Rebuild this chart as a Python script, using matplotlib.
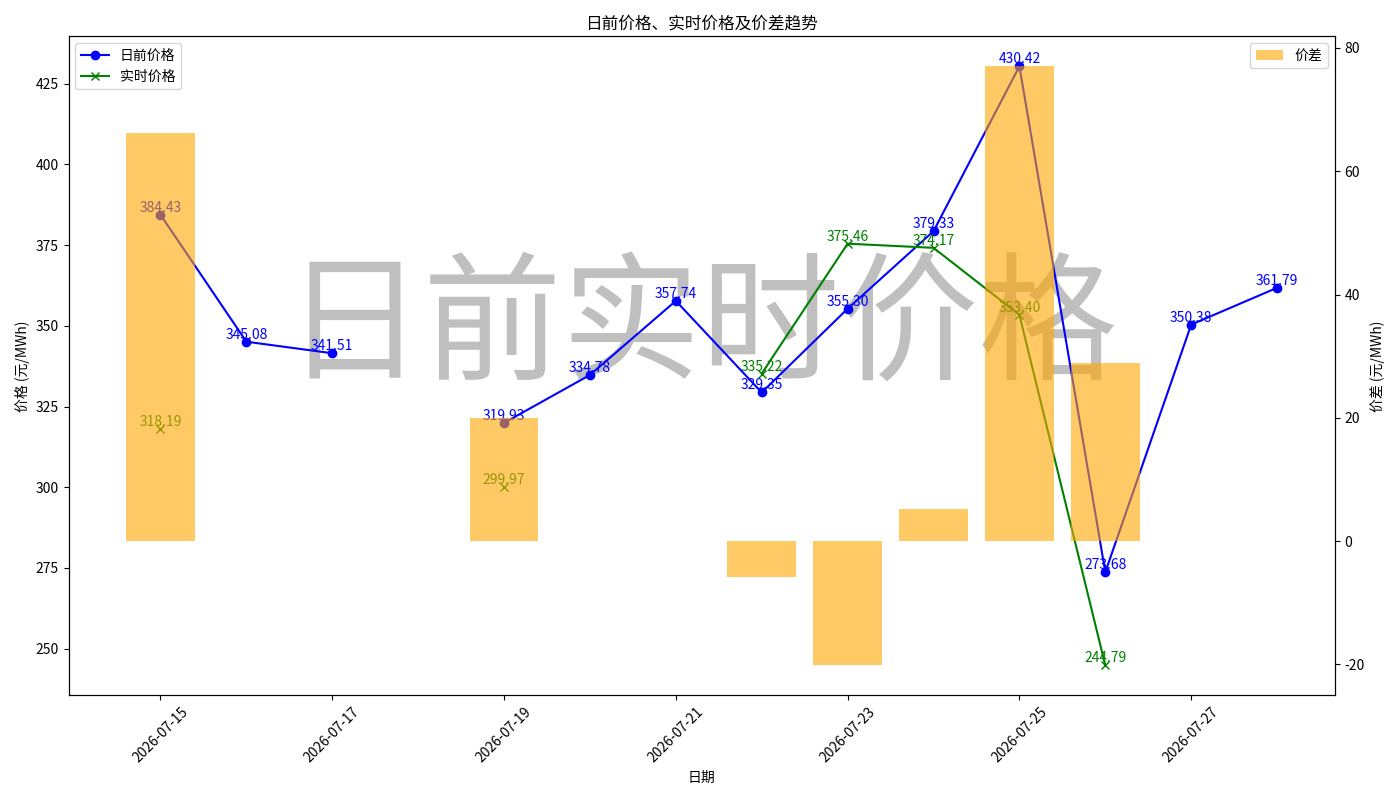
import numpy as np
import pandas as pd
import matplotlib
matplotlib.use('Agg')
import matplotlib.pyplot as plt

plt.rcParams['font.family'] = ['Noto Sans CJK SC', 'DejaVu Sans']
plt.rcParams['axes.unicode_minus'] = False

dates = pd.date_range('2026-07-15', '2026-07-28', freq='D')
day_ahead = [384.43, 345.08, 341.51, np.nan, 319.93, 334.78, 357.74,
             329.35, 355.30, 379.33, 430.42, 273.68, 350.38, 361.79]
real_time = [318.19, np.nan, np.nan, np.nan, 299.97, np.nan, np.nan,
             335.22, 375.46, 374.17, 353.40, 244.79, np.nan, np.nan]

da = np.array(day_ahead)
rt = np.array(real_time)
spread = da - rt

fig, ax1 = plt.subplots(figsize=(14, 8), dpi=100)

ax1.plot(dates, da, marker='o', color='blue', label='日前价格')
ax1.plot(dates, rt, marker='x', color='green', label='实时价格')
for d, v in zip(dates, da):
    if not np.isnan(v):
        ax1.text(d, v, f'{v:.2f}', ha='center', va='bottom', color='blue', fontsize=10)
for d, v in zip(dates, rt):
    if not np.isnan(v):
        ax1.text(d, v, f'{v:.2f}', ha='center', va='bottom', color='green', fontsize=10)

# watermark
ax1.text(0.5, 0.555, '日前实时价格', transform=ax1.transAxes, fontsize=100,
         color='gray', alpha=0.5, ha='center', va='center', zorder=0)

ax1.set_xlabel('日期')
ax1.set_ylabel('价格 (元/MWh)')
ax1.set_title('日前价格、实时价格及价差趋势')
ax1.legend(loc='upper left')
ax1.tick_params(axis='x', rotation=45)

ax2 = ax1.twinx()
ax2.bar(dates, spread, color='orange', alpha=0.6, width=0.8, label='价差')
ax2.set_ylabel('价差 (元/MWh)')
ax2.legend(loc='upper right')

fig.tight_layout()
fig.savefig('out.png')
